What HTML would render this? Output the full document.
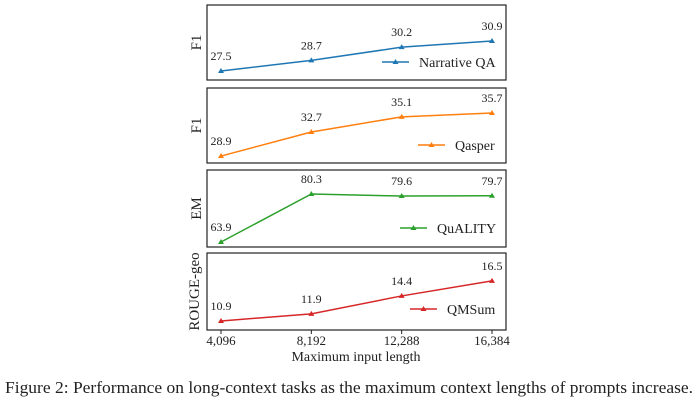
<!DOCTYPE html>
<html><head><meta charset="utf-8"><style>
body{margin:0;background:#fff;}
svg text{font-family:"Liberation Serif",serif;fill:#222;}
</style></head><body>
<svg id="c" width="700" height="403" xmlns="http://www.w3.org/2000/svg"></svg>
<script>
const categories=["4,096","8,192","12,288","16,384"];
const narrativeQA=[27.5,28.7,30.2,30.9];
const qasper=[28.9,32.7,35.1,35.7];
const quality=[63.9,80.3,79.6,79.7];
const qmsum=[10.9,11.9,14.4,16.5];
const panels=[
 {name:"Narrative QA",ylabel:"F1",data:narrativeQA,color:"#1f77b4",top:5,bot:80,ymin:26.48,ymax:34.98,lx:382,ly:62},
 {name:"Qasper",ylabel:"F1",data:qasper,color:"#ff7f0e",top:88,bot:163,ymin:27.8,ymax:39.66,lx:418,ly:145},
 {name:"QuALITY",ylabel:"EM",data:quality,color:"#2ca02c",top:170,bot:247,ymin:62.2,ymax:88.5,lx:400,ly:228},
 {name:"QMSum",ylabel:"ROUGE-geo",data:qmsum,color:"#d62728",top:253,bot:330,ymin:9.64,ymax:20.4,lx:410,ly:309}
];
const L=207,R=506;
const svg=document.getElementById('c');
const NS="http://www.w3.org/2000/svg";
function mk(t,a,p){const e=document.createElementNS(NS,t);for(const k in a)e.setAttribute(k,a[k]);(p||svg).appendChild(e);return e;}
const xs=i=>221+i*(492-221)/(categories.length-1);
panels.forEach((p,pi)=>{
 const g=mk('g',{});
 
 
 const ys=v=>p.bot-(v-p.ymin)/(p.ymax-p.ymin)*(p.bot-p.top);
 const fr=mk('rect',{x:L,y:p.top,width:R-L,height:p.bot-p.top,fill:'none',stroke:'#222','stroke-width':1.2},g);
 
 
 const yl=mk('text',{x:0,y:0,'font-size':15,'text-anchor':'middle',transform:`translate(${pi==3?199:201},${(p.top+p.bot)/2}) rotate(-90)`},g);
 yl.textContent=p.ylabel;
 
 
 const pts=p.data.map((v,i)=>xs(i)+','+ys(v)).join(' ');
 const ln=mk('polyline',{points:pts,fill:'none',stroke:p.color,'stroke-width':1.5},g);
 
 
 p.data.forEach((v,i)=>{
  const x=xs(i),y=ys(v);
  const m=mk('polygon',{points:`${x},${y-3} ${x-3},${y+2} ${x+3},${y+2}`,fill:p.color},g);
  
  
  const t=mk('text',{x:x,y:y-11,'font-size':12,'text-anchor':'middle'},g);
  t.textContent=v.toFixed(1);
  
  
 });
 const lg=mk('g',{},g);
 
 
 mk('line',{x1:p.lx,y1:p.ly,x2:p.lx+27,y2:p.ly,stroke:p.color,'stroke-width':1.5},lg);
 const mx=p.lx+13.5;
 mk('polygon',{points:`${mx},${p.ly-3} ${mx-3},${p.ly+2} ${mx+3},${p.ly+2}`,fill:p.color},lg);
 const lt=mk('text',{x:p.lx+37,y:p.ly+5,'font-size':14},lg);
 lt.textContent=p.name;
});
categories.forEach((c,i)=>{
 const tk=mk('line',{x1:xs(i),y1:330,x2:xs(i),y2:334,stroke:'#222'});
 
 
 const t=mk('text',{x:xs(i),y:345,'font-size':13,'text-anchor':'middle'});
 t.textContent=c;
 
 
});
const xt=mk('text',{x:356,y:361,'font-size':14,'text-anchor':'middle'});
xt.textContent="Maximum input length";


const cap=mk('text',{x:5,y:393,'font-size':17,textLength:688,lengthAdjust:'spacingAndGlyphs'});
cap.textContent="Figure 2: Performance on long-context tasks as the maximum context lengths of prompts increase.";


</script>
</body></html>
